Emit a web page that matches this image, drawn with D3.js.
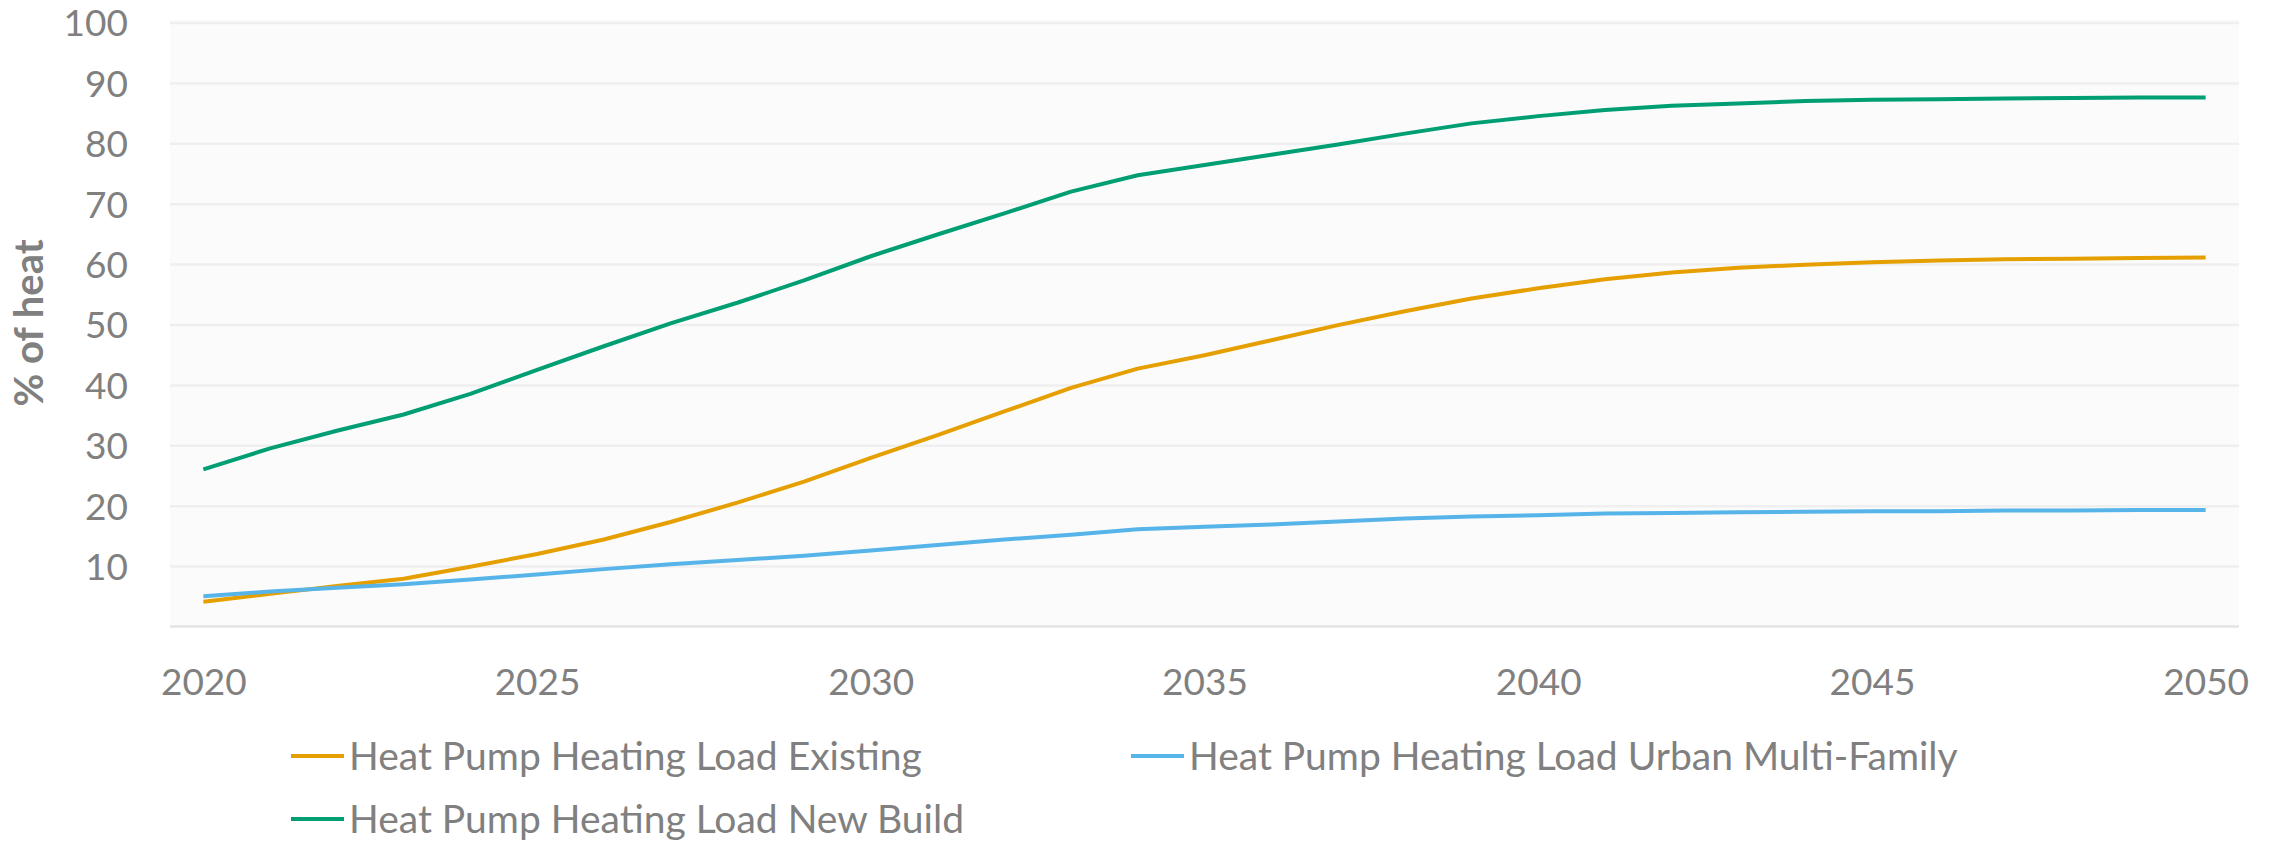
<!DOCTYPE html>
<html>
<head>
<meta charset="utf-8">
<script src="https://cdn.jsdelivr.net/npm/d3@7"></script>
<style>
  html, body { margin: 0; padding: 0; background: #ffffff; }
  svg text { font-family: Lato, "Open Sans", sans-serif; fill: #808080; }
</style>
</head>
<body>
<svg id="chart" width="2283" height="844"></svg>
<script>
// years on the category axis
var years = d3.range(2020, 2051);
var xTickYears = [2020, 2025, 2030, 2035, 2040, 2045, 2050];
var yTicks = [10, 20, 30, 40, 50, 60, 70, 80, 90, 100];

// % of heat
var existing = [4.1, 5.4, 6.7, 7.9, 9.9, 12.0, 14.4, 17.3, 20.5, 24.0, 27.9, 31.7, 35.6, 39.5, 42.7, 44.9,
  47.4, 49.9, 52.2, 54.3, 56.0, 57.5, 58.6, 59.4, 59.9, 60.3, 60.6, 60.8, 60.9, 61.0, 61.1];
var urbanMultiFamily = [5.0, 5.8, 6.4, 7.0, 7.8, 8.6, 9.5, 10.3, 11.0, 11.7, 12.6, 13.5, 14.4, 15.2, 16.1, 16.5,
  16.9, 17.4, 17.9, 18.2, 18.4, 18.7, 18.8, 18.9, 19.0, 19.1, 19.1, 19.2, 19.2, 19.3, 19.3];
var newBuild = [26.0, 29.5, 32.4, 35.1, 38.5, 42.5, 46.4, 50.2, 53.6, 57.3, 61.3, 64.9, 68.4, 72.0, 74.7, 76.4,
  78.1, 79.8, 81.6, 83.3, 84.5, 85.5, 86.2, 86.6, 87.0, 87.2, 87.3, 87.4, 87.5, 87.6, 87.6];

var seriesNames = ["Heat Pump Heating Load Existing", "Heat Pump Heating Load Urban Multi-Family", "Heat Pump Heating Load New Build"];
var seriesColors = ["#E69F00", "#56B4E9", "#009E73"];
var seriesValues = [existing, urbanMultiFamily, newBuild];

var svg = d3.select("#chart");
var plotLeft = 170, plotRight = 2239, plotTop = 22.5, plotBottom = 626.5;

var x = d3.scalePoint().domain(years).range([plotLeft, plotRight]).padding(0.5);
var y = d3.scaleLinear().domain([0, 100]).range([plotBottom, plotTop]);

// plot background
svg.append("rect")
    .attr("x", plotLeft).attr("y", y(100) - 3)
    .attr("width", plotRight - plotLeft).attr("height", y(0) - y(100) + 3)
    .attr("fill", "#fbfbfb");

// gridlines + y labels
var yAxis = svg.append("g")
    .attr("transform", "translate(" + plotLeft + ",0)")
    .call(d3.axisLeft(y).tickValues(yTicks).tickSize(-(plotRight - plotLeft)).tickPadding(42));
yAxis.select(".domain").remove();
yAxis.selectAll(".tick line").attr("stroke", "#efefef").attr("stroke-width", 2.5);
yAxis.selectAll(".tick text").attr("font-size", 37).attr("dy", "0.36em");

// bottom axis line
svg.append("line")
    .attr("x1", plotLeft).attr("x2", plotRight)
    .attr("y1", y(0)).attr("y2", y(0))
    .attr("stroke", "#e4e4e4").attr("stroke-width", 2.5);

var xAxis = svg.append("g")
    .attr("transform", "translate(0," + y(0) + ")")
    .call(d3.axisBottom(x).tickValues(xTickYears).tickSize(0).tickPadding(42));
xAxis.select(".domain").remove();
xAxis.selectAll(".tick text").attr("font-size", 37);

// y axis title
svg.append("text")
    .attr("transform", "translate(43,323) rotate(-90)")
    .attr("text-anchor", "middle")
    .attr("font-size", 40)
    .attr("font-weight", "bold")
    .text("% of heat");

var line = d3.line()
    .x(function(d, i) { return x(years[i]); })
    .y(function(d) { return y(d); });

svg.append("g").selectAll("path")
    .data(seriesValues)
    .enter().append("path")
      .attr("d", line)
      .attr("fill", "none")
      .attr("stroke", function(d, i) { return seriesColors[i]; })
      .attr("stroke-width", 4)
      .attr("stroke-linejoin", "round");

// legend
var legendPos = [[291, 756], [1131, 756], [291, 819]];
var legend = svg.append("g").selectAll("g")
    .data(seriesNames)
    .enter().append("g")
      .attr("transform", function(d, i) { return "translate(" + legendPos[i][0] + "," + legendPos[i][1] + ")"; });
legend.append("line")
    .attr("x1", 0).attr("x2", 53)
    .attr("stroke", function(d, i) { return seriesColors[i]; })
    .attr("stroke-width", 4);
legend.append("text")
    .attr("x", 58).attr("dy", "0.36em")
    .attr("font-size", 39)
    .text(function(d) { return d; });
</script>
</body>
</html>
